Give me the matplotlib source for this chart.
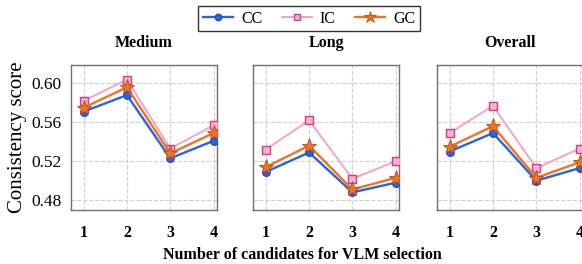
import numpy as np
import matplotlib.pyplot as plt

# number of candidates on the x axis
candidates = [1, 2, 3, 4]
panels = ['Medium', 'Long', 'Overall']

# consistency scores per panel
cc_medium = [0.571, 0.588, 0.523, 0.541]
ic_medium = [0.582, 0.604, 0.533, 0.557]
gc_medium = [0.575, 0.596, 0.528, 0.549]

cc_long = [0.509, 0.529, 0.488, 0.498]
ic_long = [0.532, 0.562, 0.502, 0.520]
gc_long = [0.514, 0.536, 0.491, 0.503]

cc_overall = [0.530, 0.549, 0.500, 0.513]
ic_overall = [0.549, 0.577, 0.513, 0.533]
gc_overall = [0.535, 0.556, 0.503, 0.519]

yticks = [0.48, 0.52, 0.56, 0.60]

plt.rcParams['font.family'] = ['Liberation Serif', 'DejaVu Serif']

fig = plt.figure(figsize=(5.82, 2.64), dpi=100)

lefts = [0.122, 0.435, 0.751]
width, bottom, height = 0.251, 0.205, 0.549

data = [(cc_medium, ic_medium, gc_medium),
        (cc_long, ic_long, gc_long),
        (cc_overall, ic_overall, gc_overall)]

handles = None
for i, (name, (cc, ic, gc)) in enumerate(zip(panels, data)):
    ax = fig.add_axes([lefts[i], bottom, width, height])
    h1, = ax.plot(candidates, cc, color='#2a62e0', marker='o', markersize=5.5,
                  markerfacecolor='#2a62e0', markeredgecolor='#2050c8', lw=1.7, label='CC', zorder=3)
    h2, = ax.plot(candidates, ic, color='#f5a3c8', marker='s', markersize=5.5,
                  markerfacecolor='#f7b3d0', markeredgecolor='#d63a85', markeredgewidth=1.0,
                  lw=1.4, label='IC', zorder=4)
    h3, = ax.plot(candidates, gc, color='#f07320', marker='*', markersize=11,
                  markerfacecolor='#f07320', markeredgecolor='#b84a10', markeredgewidth=0.6,
                  lw=1.7, label='GC', zorder=5)
    handles = [h1, h2, h3]
    ax.set_xlim(0.71, 4.08)
    ax.set_ylim(0.47, 0.619)
    ax.set_xticks(candidates)
    ax.set_yticks(yticks)
    ax.set_xticklabels([str(c) for c in candidates], fontweight='bold', fontsize=11.5)
    if i == 0:
        ax.set_yticklabels([f'{v:.2f}' for v in yticks], fontsize=12.5)
        ax.set_ylabel('Consistency score', fontsize=15, labelpad=3)
    else:
        ax.set_yticklabels([])
    ax.tick_params(axis='x', length=0, pad=11)
    ax.tick_params(axis='y', length=0, pad=7)
    ax.grid(True, color='#d0d0d0', linestyle='--', linewidth=0.8)
    for s in ax.spines.values():
        s.set_color('#707070')
        s.set_linewidth(1.0)
    ax.set_title(name, fontweight='bold', fontsize=11.5, pad=13)

fig.text(0.52, 0.035, 'Number of candidates for VLM selection', fontweight='bold',
         fontsize=11.5, ha='center', va='center')

leg = fig.legend(handles, ['CC', 'IC', 'GC'], loc='upper center', bbox_to_anchor=(0.531, 0.978),
                 ncol=3, frameon=True, fancybox=False, edgecolor='black', fontsize=11.5,
                 handlelength=1.9, columnspacing=1.2, borderpad=0.3, handletextpad=0.5,
                 markerscale=0.85, borderaxespad=0)
leg.get_frame().set_linewidth(1.0)

fig.savefig('out.png', dpi=100)
